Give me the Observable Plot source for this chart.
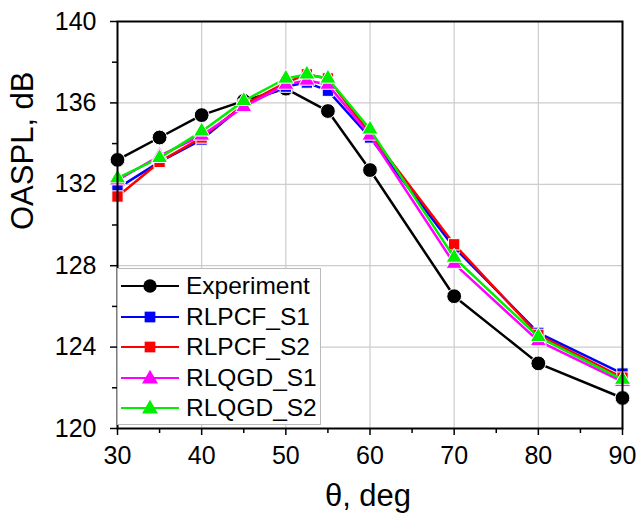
<!DOCTYPE html>
<html><head><meta charset="utf-8">
<script src="https://cdn.jsdelivr.net/npm/d3@7"></script>
<script src="https://cdn.jsdelivr.net/npm/@observablehq/plot@0.6"></script>
<style>
body{margin:0;background:#fff;font-family:"Liberation Sans",Arial,sans-serif;}
#wrap{position:relative;width:641px;height:518px;}
#legend{position:absolute;left:117px;top:268px;width:204px;height:157px;background:#fff;border:1px solid #bbb;box-sizing:border-box;padding-top:2px;}
.row{display:flex;align-items:center;height:30.5px;font-size:24.5px;color:#000;}
.row svg{flex:none;margin-left:2px;margin-right:6px;}
</style></head><body><div id="wrap"></div>
<script>
const seriesNames = ["Experiment","RLPCF_S1","RLPCF_S2","RLQGD_S1","RLQGD_S2"];
const seriesColors = ["#000000","#0000ff","#ff0000","#ff00ff","#00ee00"];
const seriesSymbols = ["circle","square","square","triangle","triangle"];
const thetaExp = [30,35,40,45,50,55,60,70,80,90];
const thetaSim = [30,35,40,45,50,52.5,55,60,70,80,90];
const experiment = [133.2,134.3,135.4,136.1,136.7,135.6,132.7,126.5,123.2,121.5];
const rlpcfS1 = [131.8,133.1,134.2,135.9,136.8,137.0,136.6,134.3,128.9,124.7,122.7];
const rlpcfS2 = [131.4,133.1,134.3,135.9,137.0,137.4,137.2,134.5,129.05,124.6,122.5];
const rlqgdS1 = [132.2,133.4,134.4,135.8,136.9,137.1,136.9,134.4,128.1,124.3,122.3];
const rlqgdS2 = [132.3,133.3,134.6,136.1,137.2,137.4,137.2,134.7,128.4,124.5,122.4];
const xTicks = [30,40,50,60,70,80,90];
const xMinor = [35,45,55,65,75,85];
const yTicks = [120,124,128,132,136,140];
const yMinor = [122,126,130,134,138];
const xLabel = "θ, deg";
const yLabel = "OASPL, dB";

const allY = [experiment, rlpcfS1, rlpcfS2, rlqgdS1, rlqgdS2];
const rows = allY.flatMap((ys, k) => {
  const xs = k === 0 ? thetaExp : thetaSim;
  return ys.map((v, i) => ({series: seriesNames[k], theta: xs[i], oaspl: v}));
});

const seriesMarks = seriesNames.flatMap((name, k) => {
  const d = rows.filter(r => r.series === name);
  const r = seriesSymbols[k] === "circle" ? 7.4 : seriesSymbols[k] === "square" ? 6.4 : 6.0;
  return [
    Plot.line(d, {x: "theta", y: "oaspl", stroke: "series", strokeWidth: 2.5}),
    Plot.dot(d, {x: "theta", y: "oaspl", fill: "series", symbol: "series", r, stroke: "white", strokeWidth: 1})
  ];
});

const chart = Plot.plot({
  width: 641, height: 518,
  marginLeft: 117, marginRight: 19, marginTop: 21, marginBottom: 90,
  style: {fontFamily: "Liberation Sans, Arial, sans-serif", fontSize: "25px", color: "#000", background: "#fff"},
  x: {domain: [30, 90]},
  y: {domain: [120, 140]},
  color: {domain: seriesNames, range: seriesColors},
  symbol: {domain: seriesNames, range: seriesSymbols},
  marks: [
    Plot.gridX(xTicks, {stroke: "#cccccc", strokeOpacity: 1, strokeWidth: 1.2}),
    Plot.gridY(yTicks, {stroke: "#cccccc", strokeOpacity: 1, strokeWidth: 1.2}),
    Plot.axisX(xTicks, {tickSize: 7, tickPadding: 11, fontSize: 25, label: null, strokeWidth: 1.5}),
    Plot.axisX(xMinor, {tickSize: 5, text: null, label: null, strokeWidth: 1.5}),
    Plot.axisY(yTicks, {tickSize: 7, tickPadding: 14, fontSize: 25, label: null, strokeWidth: 1.5}),
    Plot.axisY(yMinor, {tickSize: 5, text: null, label: null, strokeWidth: 1.5}),
    Plot.text([xLabel], {text: d => d, frameAnchor: "bottom", dy: 68, dx: -2, fontSize: 31, lineAnchor: "middle", fill: "#000"}),
    Plot.text([yLabel], {text: d => d, frameAnchor: "left", dx: -94, dy: 5, rotate: -90, fontSize: 31, lineAnchor: "middle", fill: "#000"}),
    ...seriesMarks,
    Plot.frame({stroke: "#000", strokeWidth: 2})
  ]
});
const wrap = document.getElementById("wrap");
wrap.appendChild(chart);

const legend = document.createElement("div");
legend.id = "legend";
seriesNames.forEach((name, k) => {
  const row = document.createElement("div");
  row.className = "row";
  const w = 60, h = 30;
  const svg = d3.create("svg").attr("width", w).attr("height", h);
  svg.append("line").attr("x1", 1).attr("x2", w - 1).attr("y1", h/2).attr("y2", h/2)
    .attr("stroke", seriesColors[k]).attr("stroke-width", 2);
  const type = seriesSymbols[k] === "circle" ? d3.symbolCircle : seriesSymbols[k] === "square" ? d3.symbolSquare : d3.symbolTriangle;
  const size = seriesSymbols[k] === "circle" ? 140 : seriesSymbols[k] === "square" ? 115 : 110;
  svg.append("path").attr("d", d3.symbol(type, size)()).attr("transform", `translate(${w/2},${h/2 + (seriesSymbols[k]==="triangle"?1:0)})`)
    .attr("fill", seriesColors[k]);
  row.appendChild(svg.node());
  const t = document.createElement("span");
  t.textContent = name;
  row.appendChild(t);
  legend.appendChild(row);
});
wrap.appendChild(legend);
</script></body></html>
